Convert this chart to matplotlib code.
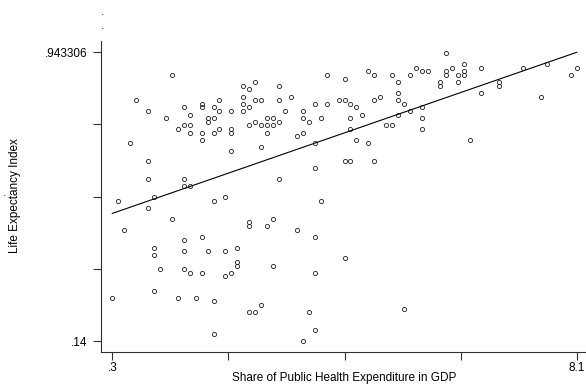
import numpy as np
import matplotlib
matplotlib.use('Agg')
import matplotlib.pyplot as plt

plt.rcParams['font.family'] = ['Liberation Sans', 'DejaVu Sans']

# ----- data (x = share of public health exp., y = LEI) -----
shareGDP = [1.3, 0.7, 0.9, 0.6, 0.9, 0.9, 1.0, 0.4, 1.2, 1.4, 1.5, 1.5, 1.6, 1.6, 1.6, 1.5, 1.5, 1.6,
            1.8, 1.8, 1.8, 1.8, 1.9, 1.9, 2.0, 2.0, 2.0, 2.1, 2.1, 2.1, 2.0, 2.2, 2.3, 2.3, 2.3, 2.3,
            2.5, 2.5, 2.5, 2.5, 2.6, 2.6, 2.6, 2.7, 2.7, 2.7, 2.8, 2.8, 2.8, 2.9, 2.9, 2.9,
            3.0, 3.0, 3.1, 3.1, 3.1, 3.1, 3.2, 3.3, 3.4, 3.5, 3.5, 3.5, 3.6, 3.7, 3.7, 3.7, 3.8, 3.8,
            3.9, 3.9, 4.1, 4.2, 4.2, 4.2, 4.3, 4.3, 4.3, 4.3, 4.4, 4.4, 4.5, 4.6, 4.6, 4.7, 4.7, 4.7,
            4.8, 4.9, 5.0, 5.0, 5.1, 5.1, 5.1, 5.1, 5.2, 5.3, 5.3, 5.4, 5.5, 5.5, 5.5, 5.5, 5.6,
            5.9, 5.9, 5.9, 5.8, 5.8, 6.0, 6.1, 6.1, 6.2, 6.2, 6.2, 6.5, 6.5, 6.3, 6.8, 6.8, 7.2, 7.6,
            7.5, 8.0, 8.1,
            0.9, 1.3, 0.5, 2.6, 2.6, 2.9, 1.5, 1.8, 1.0, 1.0, 1.5, 1.9, 2.2, 2.4, 2.4, 2.4, 1.1, 1.5,
            1.6, 1.8, 2.2, 2.3, 1.0, 0.3, 1.4, 1.7, 2.0, 2.6, 2.7, 2.8, 2.0,
            3.0, 3.4, 3.7, 4.2, 3.0, 3.7, 5.2, 3.6, 3.7, 3.5]
lifeExpIdx = [0.88, 0.81, 0.78, 0.69, 0.64, 0.59, 0.54, 0.53, 0.76, 0.73, 0.79, 0.74, 0.77, 0.74, 0.72, 0.59, 0.57, 0.57,
              0.80, 0.79, 0.72, 0.70, 0.76, 0.75, 0.79, 0.76, 0.72, 0.81, 0.78, 0.73, 0.53, 0.54, 0.78, 0.73, 0.72, 0.67,
              0.85, 0.82, 0.80, 0.78, 0.84, 0.79, 0.74, 0.86, 0.81, 0.75, 0.81, 0.74, 0.68, 0.76, 0.74, 0.72,
              0.76, 0.74, 0.85, 0.81, 0.75, 0.59, 0.78, 0.82, 0.71, 0.78, 0.76, 0.72, 0.75, 0.80, 0.69, 0.62, 0.76, 0.53,
              0.88, 0.80, 0.81, 0.87, 0.81, 0.64, 0.80, 0.76, 0.73, 0.64, 0.79, 0.70, 0.77, 0.89, 0.69, 0.88, 0.81, 0.64,
              0.82, 0.74, 0.88, 0.74, 0.86, 0.83, 0.81, 0.77, 0.80, 0.88, 0.78, 0.90, 0.89, 0.79, 0.76, 0.73, 0.89,
              0.94, 0.89, 0.88, 0.86, 0.85, 0.90, 0.88, 0.86, 0.91, 0.89, 0.88, 0.90, 0.83, 0.70, 0.86, 0.85, 0.90, 0.91,
              0.82, 0.88, 0.90,
              0.51, 0.48, 0.45, 0.47, 0.46, 0.46, 0.42, 0.43, 0.40, 0.38, 0.39, 0.39, 0.39, 0.40, 0.36, 0.35, 0.34, 0.34,
              0.33, 0.33, 0.32, 0.33, 0.28, 0.26, 0.26, 0.26, 0.25, 0.22, 0.22, 0.24, 0.16,
              0.48, 0.45, 0.43, 0.37, 0.35, 0.33, 0.23, 0.22, 0.17, 0.14]

# linear fit end points (as shown on the chart)
fitX = [0.3, 8.1]
fitY = [0.495, 0.943306]

xTicks = [0.3, 2.25, 4.2, 6.15, 8.1]
xTickLabels = ['.3', '', '', '', '8.1']
yTicks = [0.14, 0.34083, 0.54165, 0.74248, 0.943306]
yTickLabels = ['.14', '', '', '', '.943306']

W, H = 586, 385
fig = plt.figure(figsize=(W/100, H/100), dpi=100)
ax = fig.add_axes([100.7/W, 1-352.3/H, 485.3/W, 311.3/H])

ax.plot(shareGDP, lifeExpIdx, linestyle='none', marker='o', markersize=3.0,
        markerfacecolor='none', markeredgecolor='#202020', markeredgewidth=0.6)
ax.plot(fitX, fitY, color='black', linewidth=0.8)

ax.set_xlim(0.1052, 8.256)
ax.set_ylim(0.1086, 0.9747)
ax.set_xticks(xTicks)
ax.set_xticklabels(xTickLabels)
ax.set_yticks(yTicks)
ax.set_yticklabels(yTickLabels)

for s in ['top', 'right']:
    ax.spines[s].set_visible(False)
for s in ['left', 'bottom']:
    ax.spines[s].set_color('#303030')
    ax.spines[s].set_linewidth(0.8)
ax.tick_params(axis='both', direction='out', length=5.8, width=0.8, color='#303030',
               labelsize=8.5, labelcolor='black')
ax.tick_params(axis='y', pad=3.5)
ax.tick_params(axis='x', pad=1.5)

fig.text(15/W, 1-196/H, 'Life Expectancy Index', rotation=90, ha='center', va='center', fontsize=8.5)
fig.text(344/W, 1-378.5/H, 'Share of Public Health Expenditure in GDP', ha='center', va='center', fontsize=8.5)
# stray dots in the original export
fig.text(102.5/W, 1-15/H, '.', ha='center', va='baseline', fontsize=9, color='#303030')
fig.text(102.5/W, 1-29/H, '.', ha='center', va='baseline', fontsize=9, color='#303030')
fig.text(5/W, 1-196/H, '.', ha='center', va='baseline', fontsize=9, color='#303030')

fig.savefig('out.png', dpi=100)
